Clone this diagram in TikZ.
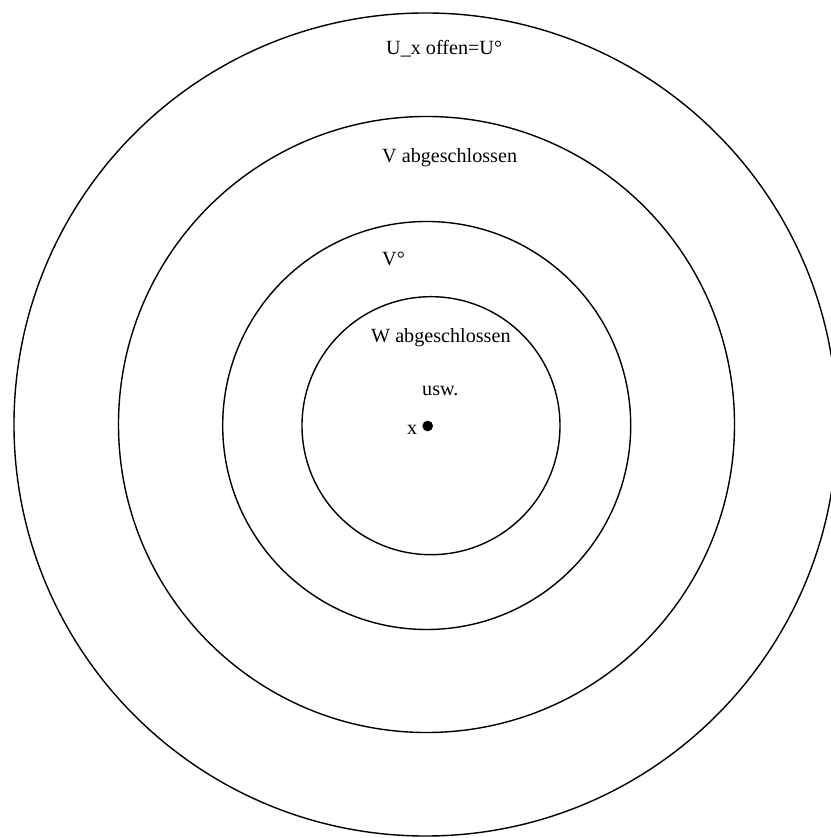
\documentclass[tikz,border=0pt]{standalone}
\usepackage{fontspec}
\setmainfont{Liberation Serif}
\begin{document}
\begin{tikzpicture}[
        x=0.03cm, y=0.03cm,
        every node/.style={font=\fontsize{17.2}{20}\selectfont},
        ring/.style={draw, line width=1.2pt},
        setlabel/.style={anchor=base west, inner sep=0pt}
    ]
        \useasboundingbox (0,0) rectangle (830,838);

        % nested neighbourhoods
        \draw[ring] (425.5,413.5) circle[radius=12.345cm];
        \draw[ring] (426.5,413.5) circle[radius=9.24cm];
        \draw[ring] (426.7,412.5) circle[radius=6.12cm];
        \draw[ring] (431,412.3) circle[radius=3.87cm];
        \fill (427.7,412) circle[radius=0.16cm];

        \node[setlabel] (ulabel) at (386,783) {U\_x offen=U°};
        \node[setlabel] (vlabel) at (382,675) {V abgeschlossen};
        \node[setlabel] (vint) at (382,572) {V°};
        \node[setlabel] (wlabel) at (371,495) {W abgeschlossen};
        \node[setlabel] (etc) at (422,442) {usw.};
        \node[setlabel] (xlabel) at (407,403) {x};
    \end{tikzpicture}
\end{document}
